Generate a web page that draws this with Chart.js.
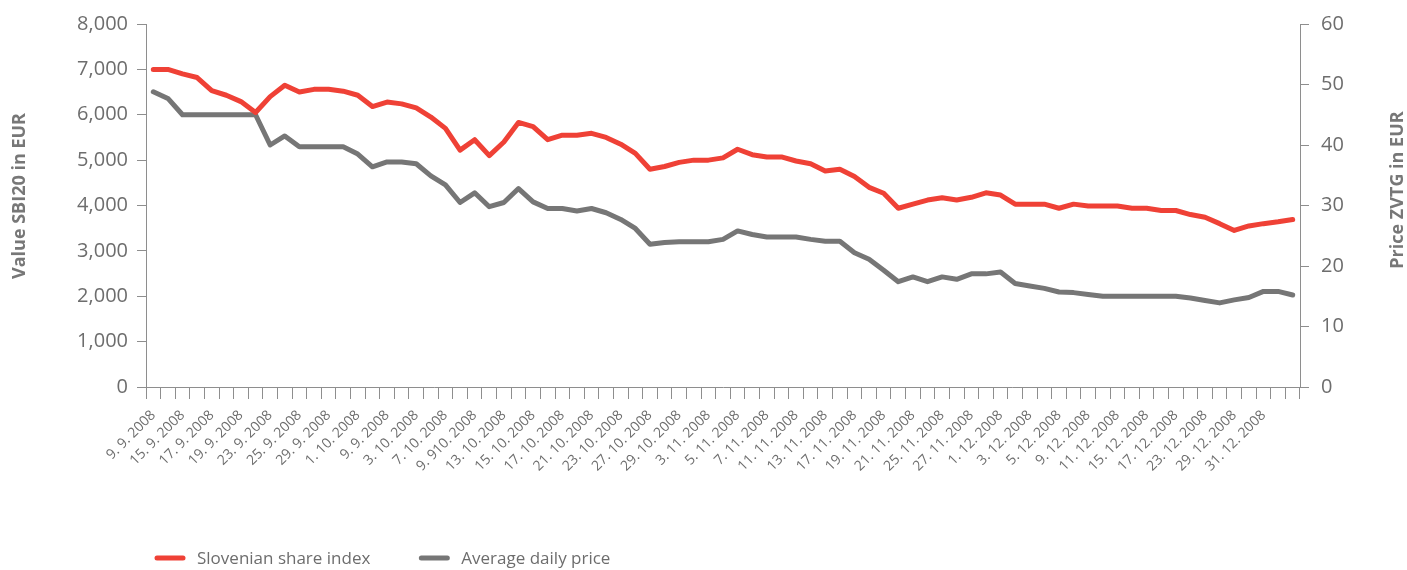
<!DOCTYPE html>
<html><head><meta charset="utf-8">
<script src="https://cdn.jsdelivr.net/npm/chart.js@4.4.1/dist/chart.umd.min.js"></script>
<style>html,body{margin:0;padding:0;background:#fff;overflow:hidden}</style>
</head><body>
<canvas id="c" width="1407" height="570"></canvas>
<script>
// Tick labels shown on the category axis (every other trading day is labelled)
const shownDates = ["9. 9. 2008","15. 9. 2008","17. 9. 2008","19. 9. 2008","23. 9. 2008","25. 9. 2008","29. 9. 2008","1. 10. 2008","9. 9. 2008","3. 10. 2008","7. 10. 2008","9. 910. 2008","13. 10. 2008","15. 10. 2008","17. 10. 2008","21. 10. 2008","23. 10. 2008","27. 10. 2008","29. 10. 2008","3. 11. 2008","5. 11. 2008","7. 11. 2008","11. 11. 2008","13. 11. 2008","17. 11. 2008","19. 11. 2008","21. 11. 2008","25. 11. 2008","27. 11. 2008","1. 12. 2008","3. 12. 2008","5. 12. 2008","9. 12. 2008","11. 12. 2008","15. 12. 2008","17. 12. 2008","23. 12. 2008","29. 12. 2008","31. 12. 2008"];

// Slovenian share index SBI20 (EUR, left axis)
const sbi20 = [7000,7000,6900,6820,6530,6430,6290,6050,6400,6650,
  6500,6560,6560,6520,6430,6180,6280,6240,6150,5950,
  5700,5220,5450,5100,5400,5830,5740,5450,5550,5550,
  5590,5500,5350,5150,4800,4860,4950,5000,5000,5050,
  5240,5120,5070,5070,4980,4920,4760,4800,4640,4400,
  4270,3940,4030,4120,4170,4120,4180,4280,4230,4030,
  4030,4030,3940,4030,3990,3990,3990,3940,3940,3890,
  3890,3800,3740,3600,3450,3550,3600,3640,3690];

// Average daily price ZVTG (EUR, right axis)
const zvtg = [48.8,47.7,45,45,45,45,45,45,40.0,41.5,
  39.7,39.7,39.7,39.7,38.5,36.4,37.2,37.2,36.9,34.9,
  33.4,30.5,32.1,29.8,30.5,32.8,30.6,29.5,29.5,29.1,
  29.5,28.8,27.7,26.2,23.6,23.9,24.0,24.0,24.0,24.4,
  25.8,25.2,24.8,24.8,24.8,24.4,24.1,24.1,22.2,21.1,
  19.3,17.4,18.2,17.4,18.2,17.8,18.7,18.7,19.0,17.1,
  16.7,16.3,15.7,15.6,15.3,15,15,15,15,15,
  15,14.7,14.3,13.9,14.4,14.8,15.8,15.8,15.2];

const seriesNames = ["Slovenian share index", "Average daily price"];
const axisTitles = ["Value SBI20 in EUR", "Price ZVTG in EUR"];

// one category per data point; only every other one carries a label
const categories = sbi20.map((_, i) => (i % 2 === 0 && shownDates[i / 2]) ? shownDates[i / 2] : "");

const RED = "#ef4136", GREY = "#767676", TXT = "#6d6d6d", AX = "#8e8e8e";
const FONT = "'Open Sans', 'Noto Sans', sans-serif";

const customDraw = {
  id: "customDraw",
  afterDraw(chart) {
    const ctx = chart.ctx;
    ctx.save();
    // axis titles
    ctx.fillStyle = "#777777";
    ctx.font = "bold 18px " + FONT;
    ctx.textAlign = "center";
    ctx.textBaseline = "middle";
    ctx.save(); ctx.translate(20, 196); ctx.rotate(-Math.PI / 2); ctx.fillText(axisTitles[0], 0, 0); ctx.restore();
    ctx.save(); ctx.translate(1398, 190); ctx.rotate(-Math.PI / 2); ctx.fillText(axisTitles[1], 0, 0); ctx.restore();
    // legend
    ctx.font = "17px " + FONT;
    ctx.textAlign = "left";
    let x = 155; const y = 558;
    chart.data.datasets.forEach(ds => {
      ctx.strokeStyle = ds.borderColor; ctx.lineWidth = 5; ctx.lineCap = "round";
      ctx.beginPath(); ctx.moveTo(x + 2, y); ctx.lineTo(x + 28, y); ctx.stroke();
      ctx.fillStyle = TXT;
      ctx.fillText(ds.label, x + 42, y + 1);
      x += 42 + ctx.measureText(ds.label).width + 49;
    });
    ctx.restore();
  }
};

new Chart(document.getElementById("c"), {
  type: "line",
  data: {
    labels: categories,
    datasets: [
      { label: seriesNames[0], data: sbi20, yAxisID: "y", borderColor: RED, backgroundColor: RED,
        borderWidth: 5, pointRadius: 0, tension: 0, borderJoinStyle: "round", borderCapStyle: "round" },
      { label: seriesNames[1], data: zvtg, yAxisID: "y1", borderColor: GREY, backgroundColor: GREY,
        borderWidth: 5, pointRadius: 0, tension: 0, borderJoinStyle: "round", borderCapStyle: "round" }
    ]
  },
  options: {
    responsive: false,
    devicePixelRatio: 1,
    animation: false,
    layout: { padding: { top: 24, left: 0, right: 0, bottom: 0 } },
    plugins: { legend: { display: false }, tooltip: { enabled: false } },
    scales: {
      x: {
        type: "category",
        offset: true,
        grid: { display: true, offset: true, drawOnChartArea: false, drawTicks: true, tickLength: 12, color: AX, lineWidth: 1 },
        border: { display: true, color: AX, width: 1 },
        ticks: { autoSkip: false, minRotation: 45, maxRotation: 45, padding: 8, color: TXT, font: { family: FONT, size: 14 } },
        afterFit(s) { s.height = 183; }
      },
      y: {
        position: "left", min: 0, max: 8000,
        grid: { display: true, drawOnChartArea: false, drawTicks: true, tickLength: 9, color: AX },
        border: { display: true, color: AX, width: 1 },
        ticks: { stepSize: 1000, padding: 9, color: TXT, font: { family: FONT, size: 20 },
          callback: v => v.toLocaleString("en-US") },
        afterFit(s) { s.width = 146; }
      },
      y1: {
        position: "right", min: 0, max: 60,
        grid: { display: true, drawOnChartArea: false, drawTicks: true, tickLength: 9, color: AX },
        border: { display: true, color: AX, width: 1 },
        ticks: { stepSize: 10, padding: 12, color: TXT, font: { family: FONT, size: 20 } },
        afterFit(s) { s.width = 107; }
      }
    }
  },
  plugins: [customDraw]
});
</script>
</body></html>
